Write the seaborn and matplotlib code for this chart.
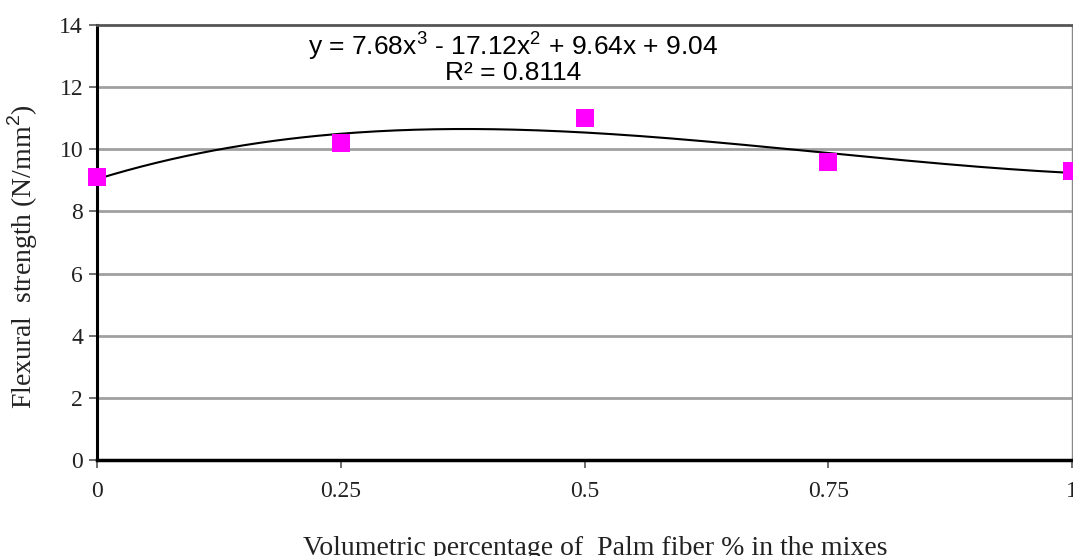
import numpy as np
import matplotlib
matplotlib.use("Agg")
import matplotlib.pyplot as plt
import seaborn as sns
import pandas as pd

# Data
fiber_pct = [0, 0.25, 0.5, 0.75, 1.0]
flexural = [9.1, 10.2, 11.0, 9.6, 9.3]
trend_coeffs = [7.68, -17.12, 9.64, 9.04]  # cubic trendline from chart
x_ticks = [0, 0.25, 0.5, 0.75, 1]
x_tick_labels = ["0", "0.25", "0.5", "0.75", "1"]
y_ticks = [0, 2, 4, 6, 8, 10, 12, 14]

sns.set_theme(style="white")
plt.rcParams['font.family'] = ['Liberation Serif', 'DejaVu Serif']
plt.rcParams['mathtext.fontset'] = 'custom'
plt.rcParams['mathtext.rm'] = 'Liberation Sans'

fig = plt.figure(figsize=(10.73, 5.56), dpi=100)
ax = fig.add_axes([97/1073, 96/556, (1072-97)/1073, (460-25)/556])

df = pd.DataFrame({"x": fiber_pct, "y": flexural})
xs = np.linspace(0, 1, 200)
ys = np.polyval(trend_coeffs, xs)
sns.lineplot(x=xs, y=ys, ax=ax, color="black", linewidth=1.5, zorder=3)
sns.scatterplot(data=df, x="x", y="y", ax=ax, marker="s", s=170, color="#ff00ff",
                edgecolor="#ff00ff", linewidth=0, zorder=4, clip_on=False)

ax.set_xlim(0, 1)
ax.set_ylim(0, 14)
ax.set_xticks(x_ticks)
ax.set_xticklabels(x_tick_labels)
ax.set_yticks(y_ticks)
for yv in y_ticks[1:-1]:
    ax.axhline(yv, color="#a0a0a0", linewidth=2, zorder=1)

ax.spines['left'].set_color("black")
ax.spines['left'].set_linewidth(2.2)
ax.spines['bottom'].set_color("black")
ax.spines['bottom'].set_linewidth(2.5)
ax.spines['top'].set_color("#555555")
ax.spines['top'].set_linewidth(2)
ax.spines['right'].set_color("#888888")
ax.spines['right'].set_linewidth(1)

ax.tick_params(axis='both', which='both', direction='out', length=6, width=1.2,
               color="#555555", labelsize=17, labelcolor="#222222")
ax.tick_params(axis='x', pad=9)
ax.tick_params(axis='y', pad=4)
ax.yaxis.set_ticks_position('left')
ax.xaxis.set_ticks_position('bottom')

ax.set_xlabel("Volumetric percentage of  Palm fiber % in the mixes", fontsize=20,
              color="#222222")
ax.set_ylabel("Flexural  strength (N/mm$^2$)", fontsize=20, color="#222222")
ax.xaxis.set_label_coords(0.511, -0.175)
ax.yaxis.set_label_coords(-0.058, 0.467)

ax.text(0.427, 12.98, "y = 7.68x$^3$ - 17.12x$^2$ + 9.64x + 9.04\nR² = 0.8114",
        ha="center", va="center", fontsize=19, family=["Liberation Sans", "DejaVu Sans"],
        linespacing=0.95, color="black", zorder=5)

fig.savefig("out.png", dpi=100)
